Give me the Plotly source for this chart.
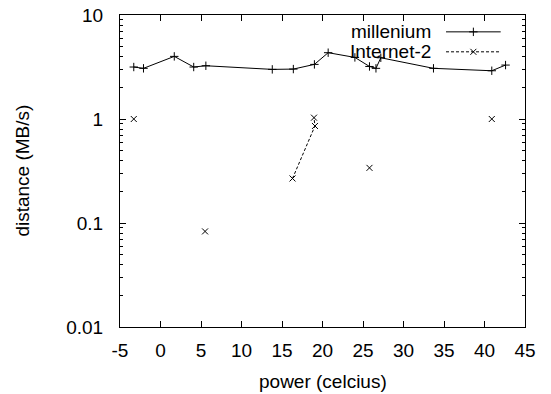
import plotly.graph_objects as go

# Data
mill_x = [-3.3, -2.1, 1.7, 4.1, 5.6, 13.8, 16.4, 19.0, 20.7, 24.0, 25.8, 26.6, 27.2, 33.7, 40.9, 42.6]
mill_y = [3.16, 3.07, 4.0, 3.16, 3.25, 3.0, 3.02, 3.35, 4.34, 3.91, 3.2, 3.07, 3.88, 3.07, 2.91, 3.3]

inet_x = [-3.3, None, 5.5, None, 16.3, 19.07, 18.95, None, 25.8, None, 40.9]
inet_y = [1.0, None, 0.083, None, 0.268, 0.857, 1.03, None, 0.339, None, 1.0]

x_ticks = [-5, 0, 5, 10, 15, 20, 25, 30, 35, 40, 45]
x_tick_labels = ["-5", "0", "5", "10", "15", "20", "25", "30", "35", "40", "45"]
y_ticks = [0.01, 0.1, 1, 10]
y_tick_labels = ["0.01", "0.1", "1", "10"]
y_minor = [m * d for d in [0.01, 0.1, 1] for m in range(2, 10)]

FONT = "Liberation Sans, Arial, sans-serif"
FS = 19

fig = go.Figure()
fig.add_trace(go.Scatter(
    x=mill_x, y=mill_y, mode="lines+markers", name="millenium",
    line=dict(color="black", width=1),
    marker=dict(symbol="cross-thin", size=6, line=dict(color="black", width=1)),
    showlegend=False))
fig.add_trace(go.Scatter(
    x=inet_x, y=inet_y, mode="lines+markers", name="Internet-2",
    line=dict(color="black", width=1, dash="3px,2px"),
    marker=dict(symbol="x-thin", size=6, line=dict(color="black", width=1)),
    showlegend=False))

# Gnuplot-style legend (text left, sample right) on an overlay axis
legend_names = ["millenium", "Internet-2"]
legend_y = [0.946, 0.882]
legend_dash = ["solid", "3px,2px"]
legend_sym = ["cross-thin", "x-thin"]
for name, ly, dash, sym in zip(legend_names, legend_y, legend_dash, legend_sym):
    fig.add_trace(go.Scatter(
        x=[0.805, 0.94], y=[ly, ly], xaxis="x2", yaxis="y2", mode="lines",
        line=dict(color="black", width=1, dash=dash), showlegend=False, hoverinfo="skip"))
    fig.add_trace(go.Scatter(
        x=[0.8725], y=[ly], xaxis="x2", yaxis="y2", mode="markers",
        marker=dict(symbol=sym, size=6, line=dict(color="black", width=1)),
        showlegend=False, hoverinfo="skip"))
    fig.add_annotation(x=0.77, y=ly, xref="x2", yref="y2", text=name, showarrow=False,
                       xanchor="right", yanchor="middle", borderpad=0,
                       font=dict(family=FONT, size=FS, color="black"))

# Axis titles
fig.add_annotation(x=0.5, y=-0.176, xref="paper", yref="paper", text="power (celcius)",
                   showarrow=False, xanchor="center", yanchor="middle",
                   font=dict(family=FONT, size=FS, color="black"))
fig.add_annotation(x=-0.243, y=0.5, xref="paper", yref="paper", text="distance (MB/s)",
                   showarrow=False, xanchor="center", yanchor="middle", textangle=-90,
                   font=dict(family=FONT, size=FS, color="black"))

axis_common = dict(showline=True, linecolor="black", linewidth=1, mirror="allticks",
                   ticks="inside", tickcolor="black", showgrid=False, zeroline=False,
                   automargin=False, ticklabeloverflow="allow",
                   tickfont=dict(family=FONT, size=FS, color="black"))

# The page body has an 8px default margin, so the figure is sized to fit the window
fig.update_layout(
    width=543, height=386,
    margin=dict(l=112, r=26, t=7, b=67),
    plot_bgcolor="white", paper_bgcolor="white",
    font=dict(family=FONT, size=FS, color="black"),
    xaxis=dict(range=[-5, 45], tickvals=x_ticks, ticktext=x_tick_labels, ticklen=6,
               ticklabelstandoff=6, **axis_common),
    yaxis=dict(type="log", range=[-2, 1], tickvals=y_ticks, ticktext=y_tick_labels,
               ticklen=6, ticklabelstandoff=12,
               minor=dict(ticks="inside", ticklen=3, tickcolor="black",
                          tickvals=y_minor, showgrid=False),
               **axis_common),
    xaxis2=dict(range=[0, 1], overlaying="x", anchor="y2", visible=False),
    yaxis2=dict(range=[0, 1], overlaying="y", anchor="x2", visible=False),
)

fig.write_html("out.html")
